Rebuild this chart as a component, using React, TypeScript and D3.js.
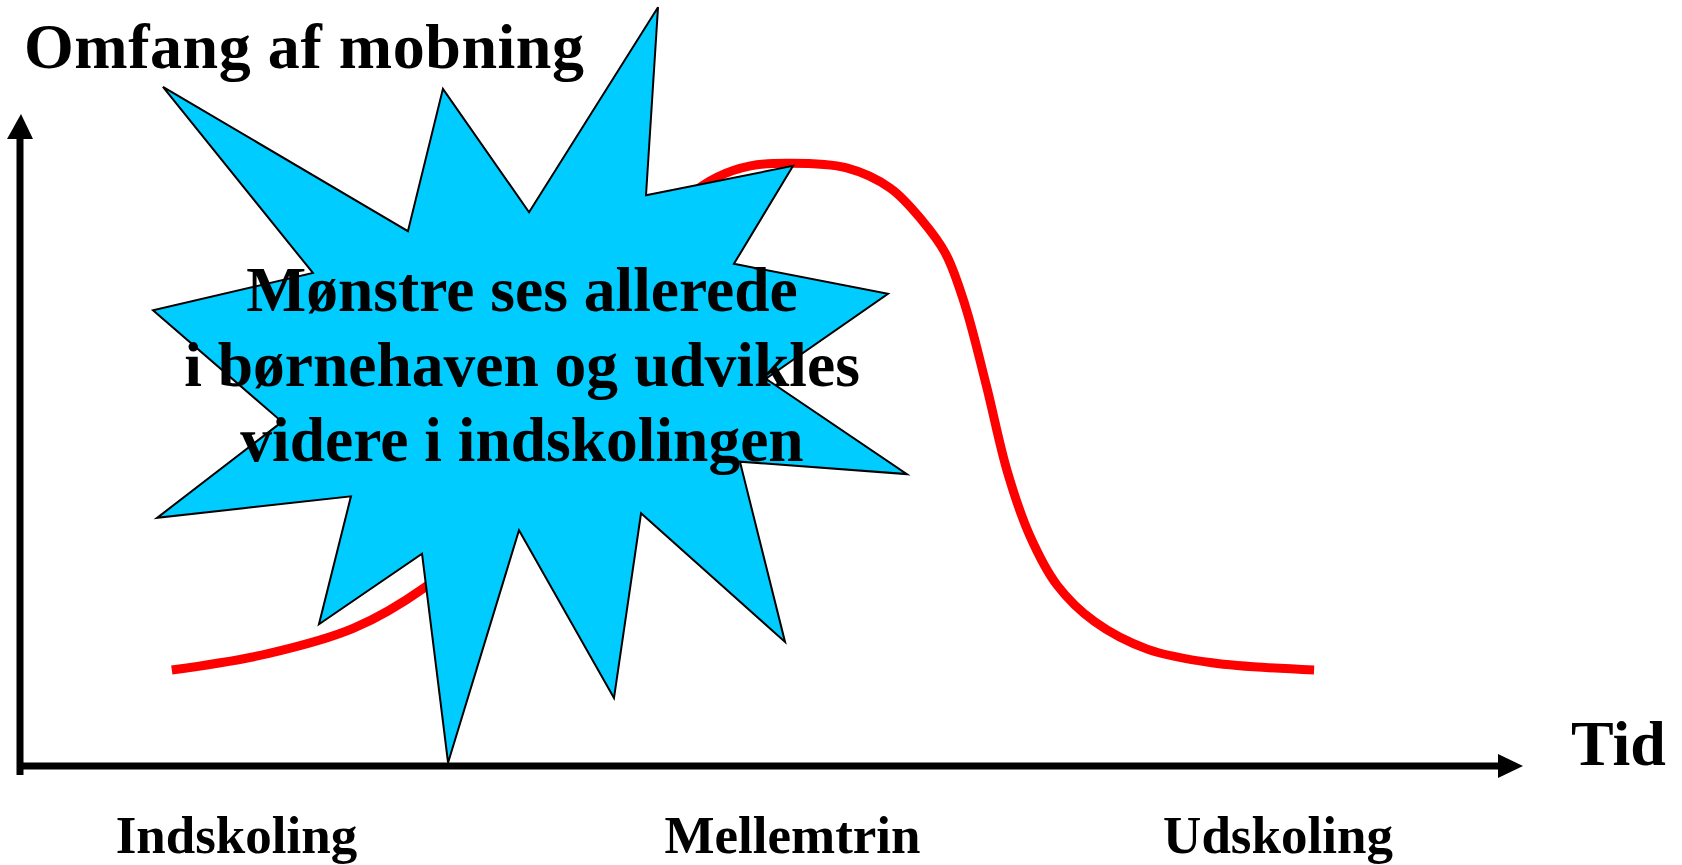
import React, { useEffect } from 'react';
import * as d3 from 'd3';

// red curve: time (0-100) vs amount of bullying (0-100)
const curveTime = [10.1, 16.5, 22.2, 26.9, 30.6, 34.6, 38.6, 41.9, 44.6, 46.4, 48.6, 51.1, 55.0, 57.9, 60.0, 61.6, 62.9, 64.3, 65.7, 67.2, 69.0, 71.5, 75.0, 79.3, 86.1];
const curveLevel = [14.7, 17.2, 21.1, 27.3, 34.6, 48.4, 65.2, 79.0, 87.4, 90.2, 91.9, 92.3, 91.6, 88.5, 83.6, 78.4, 70.4, 58.2, 45.0, 35.2, 27.7, 22.1, 17.9, 15.8, 14.7];

// callout star outline, in the same units
const starX = [9.51, 25.81, 28.14, 33.87, 42.45, 41.65, 51.43, 47.5, 57.75, 49.63, 59.01, 47.9, 50.9, 41.32, 39.52, 33.2, 28.48, 26.75, 19.89, 22.02, 9.12, 17.43, 8.85, 19.49];
const starY = [104.0, 81.9, 103.7, 84.8, 116.2, 87.4, 91.9, 76.9, 72.3, 59.3, 44.7, 46.6, 19.0, 38.7, 10.4, 36.1, 0.5, 32.5, 21.7, 41.3, 38.0, 52.7, 69.8, 75.5];

const stages = ['Indskoling', 'Mellemtrin', 'Udskoling'];
const stagePos = [14.4, 51.4, 83.7];

const calloutLines = ['Mønstre ses allerede', 'i børnehaven og udvikles', 'videre i indskolingen'];

const W = 1682;
const H = 865;
const font = '"Liberation Serif", "DejaVu Serif", serif';

export default function App() {
  useEffect(() => {
    document.body.style.margin = '0';
    document.body.style.overflow = 'hidden';
  }, []);

  const x = d3.scaleLinear().domain([0, 100]).range([20, 1523]);
  const y = d3.scaleLinear().domain([0, 100]).range([766, 113]);

  const pts: [number, number][] = curveTime.map((t, i) => [t, curveLevel[i]]);
  const line = d3.line<[number, number]>()
    .x(d => x(d[0]))
    .y(d => y(d[1]))
    .curve(d3.curveCatmullRom.alpha(0.5));

  const star = starX.map((v, i) => `${x(v)},${y(starY[i])}`).join(' ');

  const x0 = x(0);
  const y0 = y(0);
  const xEnd = 1523;
  const yTop = 114;

  return (
    <svg width={W} height={H} style={{ display: 'block', background: '#fff' }}>
      <text x={24} y={68} fontFamily={font} fontWeight="bold" fontSize={64} fill="#000"
        textLength={560} lengthAdjust="spacing">
        Omfang af mobning
      </text>

      <path d={line(pts) || ''} fill="none" stroke="#ff0000" strokeWidth={9} />

      <polygon points={star} fill="#00ccff" stroke="#000" strokeWidth={2} strokeLinejoin="miter" />

      {calloutLines.map((t, i) => (
        <text key={t} x={522} y={311 + i * 75} textAnchor="middle" fontFamily={font}
          fontWeight="bold" fontSize={63.5} fill="#000">{t}</text>
      ))}

      {/* axes */}
      <line x1={x0} y1={775} x2={x0} y2={yTop + 24} stroke="#000" strokeWidth={7} />
      <polygon points={`${x0 - 13},${yTop + 25} ${x0 + 1},${yTop} ${x0 + 13},${yTop + 25}`} fill="#000" />
      <line x1={x0 - 3} y1={y0} x2={xEnd - 24} y2={y0} stroke="#000" strokeWidth={7} />
      <polygon points={`${xEnd - 25},${y0 - 12} ${xEnd},${y0} ${xEnd - 25},${y0 + 12}`} fill="#000" />

      <text x={1571} y={765} fontFamily={font} fontWeight="bold" fontSize={64} fill="#000">Tid</text>

      {stages.map((s, i) => (
        <text key={s} x={x(stagePos[i])} y={853} textAnchor="middle" fontFamily={font}
          fontWeight="bold" fontSize={53} fill="#000">{s}</text>
      ))}
    </svg>
  );
}
